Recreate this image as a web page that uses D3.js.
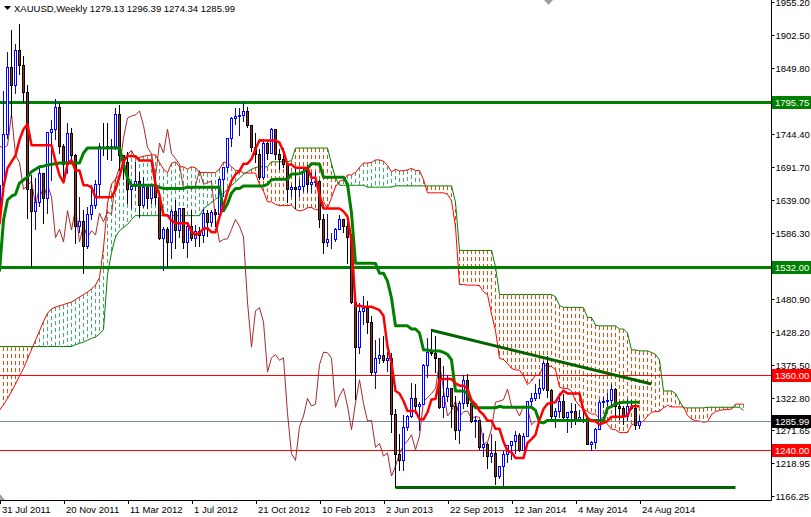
<!DOCTYPE html>
<html><head><meta charset="utf-8">
<script src="https://cdn.jsdelivr.net/npm/d3@7"></script>
<style>
html,body{margin:0;padding:0;background:#fff;}
svg{display:block;font-family:"Liberation Sans",Arial,sans-serif;}
</style></head><body>
<svg id="c" width="811" height="517"></svg>
<script>
// ---------- DATA ----------
const symbolTitle = "XAUUSD,Weekly";
const lastOHLC = ["1279.13", "1296.39", "1274.34", "1285.99"];
const dateLabels = ["31 Jul 2011","20 Nov 2011","11 Mar 2012","1 Jul 2012","21 Oct 2012","10 Feb 2013","2 Jun 2013","22 Sep 2013","12 Jan 2014","4 May 2014","24 Aug 2014"];
const dateBars = [0,16,32,48,64,80,96,112,128,144,160];
const priceTicks = [1955.20,1902.50,1849.80,1744.40,1691.70,1639.00,1586.30,1480.90,1428.20,1375.50,1322.80,1271.65,1218.95,1166.25];

const open = [1624,1663,1745,1852,1822,1879,1855,1812,1657,1622,
1636,1682,1642,1747,1752,1788,1725,1696,1746,1711,
1598,1606,1566,1616,1631,1665,1726,1725,1722,1726,
1776,1711,1699,1656,1662,1669,1631,1659,1642,1663,
1644,1579,1592,1572,1622,1591,1626,1572,1598,1579,
1590,1583,1618,1604,1620,1616,1672,1691,1738,1770,
1773,1775,1781,1758,1723,1713,1676,1730,1714,1752,
1713,1705,1696,1657,1659,1656,1662,1686,1664,1667,
1669,1608,1572,1576,1577,1592,1608,1597,1580,1476,
1404,1462,1467,1444,1364,1387,1392,1383,1387,1298,
1234,1223,1277,1294,1322,1310,1313,1376,1396,1395,
1386,1308,1326,1338,1310,1272,1315,1352,1314,1286,
1287,1244,1250,1230,1235,1198,1214,1234,1247,1254,
1264,1240,1262,1318,1323,1330,1338,1379,1335,1294,
1302,1318,1293,1301,1302,1290,1293,1292,1250,1252,
1273,1316,1318,1320,1337,1310,1307,1294,1310,1306,
1279.13];
const high = [1684,1814,1877,1912,1890,1921,1870,1825,1680,1675,
1695,1684,1748,1769,1802,1795,1730,1764,1755,1714,
1645,1625,1630,1664,1672,1731,1764,1763,1738,1787,
1792,1713,1717,1669,1702,1685,1677,1661,1666,1677,
1650,1598,1598,1627,1640,1627,1627,1605,1625,1600,
1598,1627,1625,1625,1627,1676,1693,1739,1773,1788,
1787,1796,1789,1761,1747,1722,1738,1737,1755,1754,
1722,1723,1698,1665,1693,1674,1694,1696,1684,1686,
1673,1618,1619,1588,1596,1616,1611,1605,1587,1477,
1476,1488,1480,1456,1417,1420,1424,1398,1397,1306,
1267,1297,1298,1348,1347,1318,1379,1420,1434,1424,
1387,1375,1361,1339,1327,1320,1361,1362,1324,1295,
1290,1268,1253,1267,1256,1214,1240,1249,1256,1272,
1268,1268,1320,1332,1346,1355,1384,1392,1338,1309,
1332,1331,1301,1316,1315,1305,1306,1296,1255,1277,
1321,1326,1332,1346,1340,1320,1312,1322,1321,1315,
1296.39];
const low = [1601,1662,1738,1772,1810,1840,1795,1610,1532,1592,
1630,1603,1618,1671,1737,1714,1667,1682,1699,1570,
1588,1523,1562,1608,1627,1647,1711,1705,1703,1721,
1687,1672,1634,1626,1655,1612,1628,1626,1634,1633,
1576,1527,1532,1547,1562,1580,1563,1548,1575,1565,
1566,1572,1582,1598,1598,1613,1645,1685,1726,1760,
1742,1765,1755,1718,1700,1673,1672,1705,1714,1705,
1688,1692,1636,1645,1626,1646,1653,1653,1652,1661,
1596,1555,1565,1562,1573,1592,1588,1539,1475,1321,
1395,1441,1426,1359,1338,1378,1381,1366,1269,1180,
1207,1208,1271,1293,1299,1272,1313,1357,1391,1364,
1306,1292,1318,1277,1258,1251,1306,1310,1284,1261,
1242,1230,1211,1220,1185,1195,1182,1221,1226,1235,
1238,1240,1262,1310,1319,1322,1336,1324,1289,1277,
1293,1290,1268,1277,1282,1286,1284,1251,1240,1243,
1273,1309,1311,1311,1293,1290,1282,1287,1305,1273,
1274.34];
const close = [1663,1745,1852,1822,1879,1855,1812,1657,1622,1636,
1682,1642,1747,1752,1788,1725,1696,1746,1711,1598,
1606,1566,1616,1631,1665,1726,1725,1722,1726,1776,
1711,1699,1656,1662,1669,1631,1659,1642,1663,1644,
1579,1592,1572,1622,1591,1626,1572,1598,1579,1590,
1583,1618,1604,1620,1616,1672,1691,1738,1770,1773,
1775,1781,1758,1723,1713,1676,1730,1714,1752,1713,
1705,1696,1657,1659,1656,1662,1686,1664,1667,1669,
1608,1572,1576,1577,1592,1608,1597,1580,1476,1404,
1462,1467,1444,1364,1387,1392,1383,1387,1298,1234,
1223,1277,1294,1322,1310,1313,1376,1396,1395,1386,
1308,1326,1338,1310,1272,1315,1352,1314,1286,1287,
1244,1250,1230,1235,1198,1214,1234,1247,1254,1264,
1240,1262,1318,1323,1330,1338,1379,1335,1294,1302,
1318,1293,1301,1302,1290,1293,1292,1250,1252,1273,
1316,1318,1320,1337,1310,1307,1294,1310,1306,1280,
1285.99];

// Ichimoku lines read per bar
const tenkan = [1600,1660,1690,1700,1710,1735,1752,1760,1726.5,1726.5,
1726.5,1726.5,1726.5,1726.5,1701,1678.5,1667,1697,1702.5,1686,
1686,1662.5,1662.5,1659,1643.5,1643.5,1643.5,1643.5,1643.5,1655,
1677,1700,1709.5,1709,1709,1702,1702,1702,1702,1664.5,
1646.5,1614.5,1614.5,1606,1602,1602,1602,1602,1588.5,1583.5,
1586,1593.5,1594,1587.5,1587.5,1612,1629,1652,1669.5,1680,
1685,1697,1697,1704.5,1720.5,1734.5,1734,1734,1734,1734,
1730.5,1716.5,1695.5,1695.5,1690.5,1690.5,1690.5,1690,1674.5,1674.5,
1647,1625.5,1625.5,1625.5,1625.5,1625.5,1620.5,1612.5,1574,1470,
1470,1468.5,1468.5,1468.5,1466,1463,1454,1404.5,1378.5,1334,
1330,1318,1302,1302,1302,1289,1288.5,1300,1320.5,1321,
1352.5,1353,1353,1353,1346,1342.5,1342.5,1337.5,1319,1313,
1302,1296,1286.5,1286.5,1273.5,1273.5,1253,1238.5,1236,1227,
1227,1227,1251,1257,1264,1288,1305,1313.5,1315,1316,
1327,1334.5,1330,1330,1330,1330,1303,1291.5,1286,1285.5,
1280.5,1283,1286,1293,1293,1293,1293,1294.5,1309.5,1309.5,
1309.5];
const kijun = [1525,1607,1639,1645,1648,1666,1671,1676,1684,1688,
1692,1693,1695,1696,1697,1698,1698,1698,1698,1698,
1698,1714,1722,1722,1722,1722,1722,1722,1722,1722,
1722,1696.5,1674,1662.5,1662.5,1662.5,1662.5,1662.5,1662.5,1662.5,
1659,1657.5,1657.5,1657.5,1657.5,1657.5,1657.5,1659.5,1659.5,1659.5,
1659.5,1659.5,1659.5,1659.5,1659.5,1659.5,1622,1633,1650,1657.5,
1657.5,1661.5,1661.5,1661.5,1661.5,1661.5,1661.5,1664,1671.5,1672,
1672,1672,1672,1680.5,1680.5,1681,1684,1689,1697,1697,
1696,1675.5,1675.5,1675.5,1675.5,1675.5,1675.5,1664,1618,1538,
1538,1538,1538,1538,1537.5,1522,1522,1509.5,1482.5,1438,
1438,1438,1438,1433,1433,1426.5,1399.5,1399.5,1398,1398,
1398,1395.5,1392.5,1383.5,1334,1334,1334,1330,1318,1307,
1307,1307,1307,1307,1307,1309.5,1308,1308,1308,1308,
1308,1308,1308,1308,1303,1284.5,1283,1287,1287,1287,
1287,1287,1287,1287,1287,1287,1287,1287,1287,1287,
1287,1287,1306.5,1309,1313.5,1315,1316,1316,1316,1316,
1316];
// Senkou spans, bars 0..186 (26 bars past the last candle)
const spanA = [1303,1312,1322,1333,1345,1358,1370,1385,1400,1415,
1430,1445,1458,1465,1468,1470,1472,1474,1476,1480,
1484,1488,1492,1497,1503,1515,1562.5,1633.5,1664.5,1672.5,
1679,1700.5,1711.5,1718,1705,1707,1709,1710,1711,1711,
1699,1688,1682.5,1697.5,1700,1692,1692,1688,1692,1690.5,
1683,1683,1682.75,1682.75,1682.75,1688.5,1699.5,1698,1692,1686,
1686,1682,1682,1682,1682,1663.5,1653,1636,1636,1632,
1630,1630,1630,1631,1624,1621.5,1623,1626.5,1627,1623.5,
1623.5,1636,1625.5,1642.5,1660,1669,1671,1679,1679,1683,
1691,1698,1698,1699,1703,1703,1701,1694,1684,1688,
1685.5,1686,1687,1689.5,1686,1686,1671.5,1650.5,1650.5,1650.5,
1650.5,1650.5,1648,1638,1596,1504,1504,1503,1503,1503,
1502,1492.5,1488,1457,1430.5,1386,1384,1378,1370,1367.5,
1367.5,1358,1344,1350,1359,1359.5,1375,1374,1373,1368,
1340,1338,1338,1334,1318.5,1310,1304.5,1301.5,1297,1297,
1290,1291.5,1280.5,1273,1272,1267.5,1267.5,1267.5,1279.5,1282.5,
1283.5,1286,1294,1300,1301,1301.5,1307,1311,1308.5,1308.5,
1308.5,1308.5,1295,1289,1286.5,1286,1284,1285,1296,1301,
1303,1304,1304.5,1305,1313,1313,1313];
const spanB = [1405,1405,1405,1405,1405,1405,1405,1405,1405,1405,
1405,1405,1405,1405,1405,1405,1405,1405,1405,1408,
1410,1412,1415,1418,1420,1425,1432,1520,1555,1580,
1590,1595,1600,1608,1614,1614,1614,1614,1614,1614,
1614,1614,1614,1614,1614,1614,1614,1614,1614,1614,
1614,1625,1630,1635,1640,1645,1650,1656,1662,1668,
1674,1680,1684,1688,1691,1692,1692,1692,1700,1700,
1700,1700,1700,1702,1722,1722,1722,1722,1722,1722,
1722,1722,1722,1696.5,1674,1662.5,1662.5,1662.5,1662.5,1662.5,
1662.5,1662.5,1659.5,1659.5,1659.5,1659.5,1659.5,1659.5,1659.5,1661.5,
1661.5,1661.5,1661.5,1661.5,1661.5,1661.5,1661.5,1661.5,1661.5,1661.5,
1661.5,1661.5,1661.5,1661.5,1635.5,1558.5,1558.5,1558.5,1558.5,1558.5,
1558.5,1558.5,1558.5,1558.5,1532.5,1488,1488,1488,1488,1488,
1488,1488,1488,1488,1488,1488,1488,1488,1488,1484.5,
1470.5,1467.5,1467.5,1467.5,1467.5,1467.5,1467,1451.5,1451.5,1439,
1438,1438,1438,1438,1438,1433,1433,1426.5,1399.5,1399.5,
1398,1398,1398,1395.5,1392.5,1383.5,1334,1334,1334,1330,
1318,1307,1307,1307,1307,1307,1307,1308,1308,1308,
1308,1308,1308,1308,1308,1308,1303];

const levelPrices = [1795.75, 1532.00, 1360.00, 1240.00, 1285.99];
const resistanceLine = [[108, 1431], [163, 1345]];
const supportLine = [[99, 1180], [184, 1180]];

// ---------- STYLE / LAYOUT ----------
const W = 811, H = 517, PW = 771, PH = 500;
const FONT = 9.5;
const levelStyle = [
  {color:"#008000", width:3, box:"#008000"},
  {color:"#008000", width:3, box:"#008000"},
  {color:"#FF0000", width:1, box:"#FF0000"},
  {color:"#FF0000", width:1, box:"#FF0000"},
  {color:"#778899", width:1, box:"#000000"}
];

const svg = d3.select("#c");
svg.append("rect").attr("width", W).attr("height", H).attr("fill", "#fff");
svg.append("defs").append("clipPath").attr("id","plot")
  .append("rect").attr("x",0).attr("y",0).attr("width",PW).attr("height",PH);

const x = d3.scaleLinear().domain([0, 1]).range([-0.5, 3.5]);
const y = d3.scaleLinear().domain([1166.25, 1955.20]).range([496, 2]);
const cy = v => Math.round(y(v)) + 0.5;

const g = svg.append("g").attr("clip-path", "url(#plot)");

// Cloud hatch
const cloudIdx = d3.range(spanA.length);
g.append("g").selectAll("line").data(cloudIdx).join("line")
  .attr("x1", j => x(j)).attr("x2", j => x(j))
  .attr("y1", j => y(Math.max(spanA[j], spanB[j])))
  .attr("y2", j => y(Math.min(spanA[j], spanB[j])))
  .attr("stroke", j => spanA[j] > spanB[j] ? "#3CB371" : "#FF4500")
  .attr("stroke-width", 1)
  .attr("stroke-dasharray", "4,3")
  .attr("shape-rendering", "crispEdges");

const lineGen = arr => d3.line().x((d, i) => x(i)).y(d => y(d))(arr);
g.append("path").attr("d", lineGen(spanA)).attr("fill","none").attr("stroke","#FF0000").attr("stroke-width",1);
g.append("path").attr("d", lineGen(spanB)).attr("fill","none").attr("stroke","#008000").attr("stroke-width",1);

// Horizontal levels
levelPrices.forEach((p, k) => {
  g.append("line").attr("x1", 0).attr("x2", PW).attr("y1", cy(p)).attr("y2", cy(p))
    .attr("stroke", levelStyle[k].color).attr("stroke-width", levelStyle[k].width);
});

// Chikou span: closes shifted 26 bars back
const chikouIdx = d3.range(0, close.length - 26);
g.append("path")
  .attr("d", d3.line().x(i => x(i)).y(i => y(close[i + 26]))(chikouIdx))
  .attr("fill","none").attr("stroke","#A52A2A").attr("stroke-width",1);

// Candles
const bars = d3.range(close.length);
const cg = g.append("g").attr("shape-rendering","crispEdges");
cg.selectAll("line.w").data(bars).join("line").attr("class","w")
  .attr("x1", i => x(i)).attr("x2", i => x(i))
  .attr("y1", i => cy(high[i])).attr("y2", i => cy(low[i]))
  .attr("stroke", i => close[i] >= open[i] ? "#0000FF" : "#000000");
cg.selectAll("rect.b").data(bars).join("rect").attr("class","b")
  .attr("x", i => x(i) - 1).attr("width", 2)
  .attr("y", i => cy(Math.max(open[i], close[i])))
  .attr("height", i => Math.max(0, cy(Math.min(open[i], close[i])) - cy(Math.max(open[i], close[i]))))
  .attr("fill", i => close[i] >= open[i] ? "#FFFFFF" : "#B22222")
  .attr("stroke", i => close[i] >= open[i] ? "#0000FF" : "#000000")
  .attr("stroke-width", 1);

// Tenkan / Kijun
g.append("path").attr("d", lineGen(kijun)).attr("fill","none").attr("stroke","#008000").attr("stroke-width",3).attr("stroke-linejoin","round");
g.append("path").attr("d", lineGen(tenkan)).attr("fill","none").attr("stroke","#FF0000").attr("stroke-width",2.5).attr("stroke-linejoin","round");

// Trend lines
[resistanceLine, supportLine].forEach(tl => {
  g.append("line").attr("x1", x(tl[0][0])).attr("y1", y(tl[0][1]))
    .attr("x2", x(tl[1][0])).attr("y2", y(tl[1][1]))
    .attr("stroke", "#006400").attr("stroke-width", 3);
});

// Axes frame
svg.append("line").attr("x1", PW + 0.5).attr("x2", PW + 0.5).attr("y1", 0).attr("y2", PH + 0.5).attr("stroke","#000");
svg.append("line").attr("x1", 0).attr("x2", PW + 0.5).attr("y1", PH + 0.5).attr("y2", PH + 0.5).attr("stroke","#000");

// Price axis
const yAxis = d3.axisRight(y).tickValues(priceTicks).tickSize(3).tickPadding(1).tickFormat(d3.format(".2f"));
const ya = svg.append("g").attr("transform", `translate(${PW + 0.5},0)`).call(yAxis);
ya.select(".domain").remove();
ya.selectAll("text").attr("font-size", FONT).attr("font-family", '"Liberation Sans",Arial,sans-serif').attr("fill","#000");
ya.selectAll("line").attr("stroke","#000");

levelPrices.forEach((p, k) => {
  const yy = Math.round(y(p));
  svg.append("rect").attr("x", PW + 1).attr("y", yy - 6).attr("width", W - PW - 1).attr("height", 13).attr("fill", levelStyle[k].box);
  svg.append("text").attr("x", PW + 4).attr("y", yy + 4).attr("font-size", FONT).attr("fill", "#fff").text(d3.format(".2f")(p));
});

// Date axis
const xa = svg.append("g");
dateBars.forEach((b, k) => {
  const xx = Math.round(x(b)) + 0.5;
  xa.append("line").attr("x1", xx).attr("x2", xx).attr("y1", PH).attr("y2", PH + 4).attr("stroke", "#000");
  xa.append("text").attr("x", Math.max(0, xx + 1.5)).attr("y", PH + 13).attr("font-size", FONT).attr("fill", "#000").text(dateLabels[k]);
});

// Markers
svg.append("path").attr("d", "M544,0 L553,0 L548.5,5 Z").attr("fill", "#A0A0A0");
svg.append("path").attr("d", "M0,494 L0,500 L5,500 Z").attr("fill", "#A0A0A0");

// Title
svg.append("path").attr("d", "M4,6 L11,6 L7.5,10 Z").attr("fill", "#000");
svg.append("text").attr("x", 14).attr("y", 12).attr("font-size", FONT).attr("fill", "#000")
  .text(symbolTitle + "  " + lastOHLC.join(" "));

// sanity check
const n = close.length;
if (open.length !== n || high.length !== n || low.length !== n || tenkan.length !== n || kijun.length !== n || spanA.length !== n + 26 || spanB.length !== n + 26) {
  throw new Error("length mismatch " + [open.length, high.length, low.length, close.length, tenkan.length, kijun.length, spanA.length, spanB.length].join(","));
}
</script>
</body></html>
